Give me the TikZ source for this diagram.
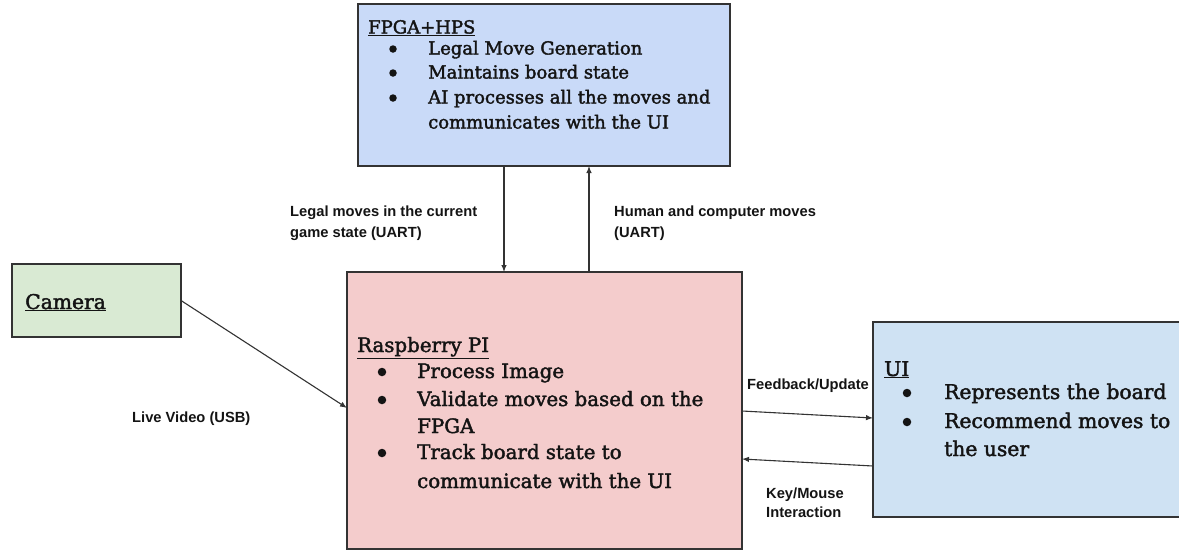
\documentclass[tikz,border=0pt]{standalone}
\usepackage{fontspec}
\setmainfont{Liberation Sans}
\newfontfamily\boxfont[FakeBold=2]{DejaVu Serif}
\usetikzlibrary{arrows.meta}
\definecolor{fpgablue}{HTML}{C9DAF8}
\definecolor{camgreen}{HTML}{D9EAD3}
\definecolor{rpipink}{HTML}{F4CCCC}
\definecolor{uiblue}{HTML}{CFE2F3}
\definecolor{edgec}{HTML}{333333}
\definecolor{ink}{HTML}{141414}
\tikzset{
  blk/.style={draw=edgec, line width=1.2pt, anchor=north west, inner sep=0, outer sep=0},
  lbl/.style={font=\fontsize{14.7}{20}\selectfont\bfseries, text=ink, anchor=base west, inner sep=0},
  arr/.style={draw=edgec, line width=1.1pt, -{Latex[length=7pt,width=5.5pt]}},
  dot/.style={circle, fill=ink, inner sep=0, minimum size=7.5pt},
  ftxt/.style={font=\boxfont\fontsize{18}{24}\selectfont, text=ink, anchor=base west, inner sep=0},
  rtxt/.style={font=\boxfont\fontsize{19.8}{27}\selectfont, text=ink, anchor=base west, inner sep=0},
  utxt/.style={font=\boxfont\fontsize{20.3}{29}\selectfont, text=ink, anchor=base west, inner sep=0},
}
\begin{document}
\begin{tikzpicture}[x=1pt,y=-1pt]
\clip (0,0) rectangle (1179,550);
\fill[white] (0,0) rectangle (1179,550);

% boxes
\node[blk, fill=fpgablue, minimum width=372pt, minimum height=162pt] (fpga) at (358,4) {};
\node[blk, fill=camgreen, minimum width=169pt, minimum height=73pt] (cam) at (12,264) {};
\node[blk, fill=rpipink, minimum width=395pt, minimum height=277pt] (rpi) at (347,272) {};
\node[blk, fill=uiblue, minimum width=320pt, minimum height=195pt] (ui) at (873,322) {};

% FPGA text
\node[ftxt] (fT) at (368,33.5) {\underline{FPGA+HPS}};
\node[dot] (fb1) at (393,49) {};
\node[ftxt] (f1) at (428,54.5) {Legal Move Generation};
\node[dot] (fb2) at (393,73) {};
\node[ftxt] (f2) at (428,78.5) {Maintains board state};
\node[dot] (fb3) at (393,98) {};
\node[ftxt] (f3) at (428,103.5) {AI processes all the moves and};
\node[ftxt] (f4) at (428,128.5) {communicates with the UI};

% Camera text
\node[utxt] (cT) at (25,309) {\underline{Camera}};

% Raspberry text
\node[rtxt] (rT) at (357,352) {\underline{Raspberry PI}};
\node[dot, minimum size=8.5pt] (rb1) at (382,372) {};
\node[rtxt] (r1) at (417,378) {Process Image};
\node[dot, minimum size=8.5pt] (rb2) at (382,400) {};
\node[rtxt] (r2) at (417,406) {Validate moves based on the};
\node[rtxt] (r3) at (417,433) {FPGA};
\node[dot, minimum size=8.5pt] (rb3) at (382,453) {};
\node[rtxt] (r4) at (417,459) {Track board state to};
\node[rtxt] (r5) at (417,488) {communicate with the UI};

% UI text
\node[utxt] (uT) at (884,376) {\underline{UI}};
\node[dot, minimum size=8.5pt] (ub1) at (907,393) {};
\node[utxt] (u1) at (944,399) {Represents the board};
\node[dot, minimum size=8.5pt] (ub2) at (907,422) {};
\node[utxt] (u2) at (944,428) {Recommend moves to};
\node[utxt] (u3) at (944,456) {the user};

% connector labels
\node[lbl] (l1a) at (290,216) {Legal moves in the current};
\node[lbl] (l1b) at (290,237) {game state (UART)};
\node[lbl] (l2a) at (614,216) {Human and computer moves};
\node[lbl] (l2b) at (614,237) {(UART)};
\node[lbl] (l3) at (132,422) {Live Video (USB)};
\node[lbl] (l4) at (747,389) {Feedback/Update};
\node[lbl] (l5a) at (766,498) {Key/Mouse};
\node[lbl] (l5b) at (766,517) {Interaction};

% connector coordinates
\coordinate (dA) at (504,0);
\coordinate (uA) at (589,0);
\coordinate (camY) at (0,408);
\coordinate (fbS) at (0,411);
\coordinate (fbE) at (0,418);
\coordinate (kmS) at (0,466);
\coordinate (kmE) at (0,459);

% connectors
\draw[arr] (fpga.south -| dA) -- (rpi.north -| dA);
\draw[arr] (rpi.north -| uA) -- (fpga.south -| uA);
\draw[arr] (cam.east) -- (rpi.west |- camY);
\draw[arr] (rpi.east |- fbS) -- (ui.west |- fbE);
\draw[arr] (ui.west |- kmS) -- (rpi.east |- kmE);
\end{tikzpicture}
\end{document}
